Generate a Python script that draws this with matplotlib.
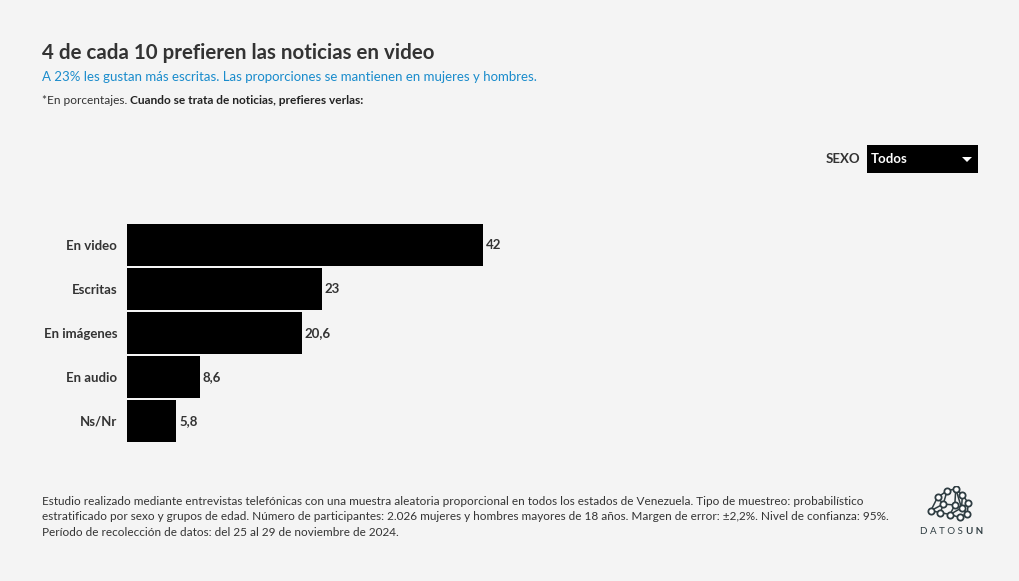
import matplotlib.pyplot as plt
from matplotlib.patches import Rectangle, Polygon

plt.rcParams['font.family'] = ['Lato', 'DejaVu Sans']

categorias = ["En video", "Escritas", "En imágenes", "En audio", "Ns/Nr"]
valores = [42, 23, 20.6, 8.6, 5.8]
etiquetas = ["42", "23", "20,6", "8,6", "5,8"]

bg = '#f4f4f4'
fig = plt.figure(figsize=(10.2, 5.81), dpi=100, facecolor=bg)

# titles
fig.text(42/1020, 1-53/581, "4 de cada 10 prefieren las noticias en video",
         fontsize=14.8, fontweight='bold', color='#333333', va='center')
fig.text(42/1020, 1-77/581,
         "A 23% les gustan más escritas. Las proporciones se mantienen en mujeres y hombres.",
         fontsize=9.5, color='#1a8ccc', va='center')
t = fig.text(42/1020, 1-100/581, "*En porcentajes. ", fontsize=8.6, color='#333333', va='center')
fig.canvas.draw()
bb = t.get_window_extent()
fig.text(bb.x1/1020, 1-100/581, "Cuando se trata de noticias, prefieres verlas:",
         fontsize=8.6, color='#222222', fontweight='bold', va='center')

# dropdown
fig.text(860/1020, 1-159/581, "SEXO", fontsize=9.5, fontweight='bold', color='#333333',
         ha='right', va='center')
fig.patches.append(Rectangle((867/1020, 1-173/581), 111/1020, 28/581,
                             transform=fig.transFigure, facecolor='black', edgecolor='none'))
fig.text(871/1020, 1-159/581, "Todos", fontsize=9.5, fontweight='bold', color='white', va='center')
fig.patches.append(Polygon([(962/1020, 1-157/581), (972/1020, 1-157/581), (967/1020, 1-162/581)],
                           closed=True, transform=fig.transFigure, facecolor='white', edgecolor='none'))

# bars
ax = fig.add_axes([127/1020, (581-443)/581, 356/1020, 220/581])
ax.set_facecolor(bg)
y = list(range(len(categorias)))
ax.barh(y, valores, height=0.955, color='black', edgecolor='none')
ax.set_xlim(0, 42)
ax.set_ylim(len(categorias)-0.5, -0.5)
for yi, v, lab in zip(y, valores, etiquetas):
    ax.text(v + 0.35, yi, lab, fontsize=9.5, fontweight='bold', color='#333333',
            va='center', ha='left', clip_on=False)
ax.set_yticks(y)
ax.set_yticklabels(categorias, fontsize=9.5, fontweight='bold', color='#333333')
ax.tick_params(axis='y', length=0, pad=7)
ax.set_xticks([])
for s in ax.spines.values():
    s.set_visible(False)

# footer
footer = ("Estudio realizado mediante entrevistas telefónicas con una muestra aleatoria proporcional en todos los estados de Venezuela. Tipo de muestreo: probabilístico\n"
          "estratificado por sexo y grupos de edad. Número de participantes: 2.026 mujeres y hombres mayores de 18 años. Margen de error: ±2,2%. Nivel de confianza: 95%.\n"
          "Período de recolección de datos: del 25 al 29 de noviembre de 2024.")
fig.text(42/1020, 1-496/581, footer, fontsize=8.5, color='#333333', va='top', linespacing=1.5)

# logo
lax = fig.add_axes([926/1020, 1-524/581, 48/1020, 38/581])
lax.set_xlim(0, 50)
lax.set_ylim(40, 0)
lax.axis('off')
nodes = [(5, 26), (12, 12), (22, 5), (31, 3), (38, 9), (44, 18), (43, 29), (35, 33),
         (25, 30), (15, 28), (18, 19), (30, 20), (37, 23)]
edges = [(0, 1), (1, 2), (2, 3), (3, 4), (4, 5), (5, 6), (6, 7), (7, 8), (8, 9), (9, 0),
         (1, 10), (10, 2), (10, 11), (11, 3), (11, 12), (12, 5), (12, 6), (11, 8), (10, 9),
         (0, 10), (4, 12), (8, 12), (3, 12)]
for a, b in edges:
    lax.plot([nodes[a][0], nodes[b][0]], [nodes[a][1], nodes[b][1]], color='#2f3d42', lw=1.1)
for nx, ny in nodes:
    lax.plot(nx, ny, 'o', ms=4.5, mfc='white', mec='#2f3d42', mew=1.3)
t1 = fig.text(920/1020, 1-532/581, "D A T O S", fontsize=7, color='#2f3d42', va='center')
fig.canvas.draw()
x1 = t1.get_window_extent().x1
fig.text((x1 + 3)/1020, 1-532/581, "U N", fontsize=7, fontweight='bold', color='#2f3d42', va='center')

fig.savefig("out.png", dpi=100, facecolor=bg)
